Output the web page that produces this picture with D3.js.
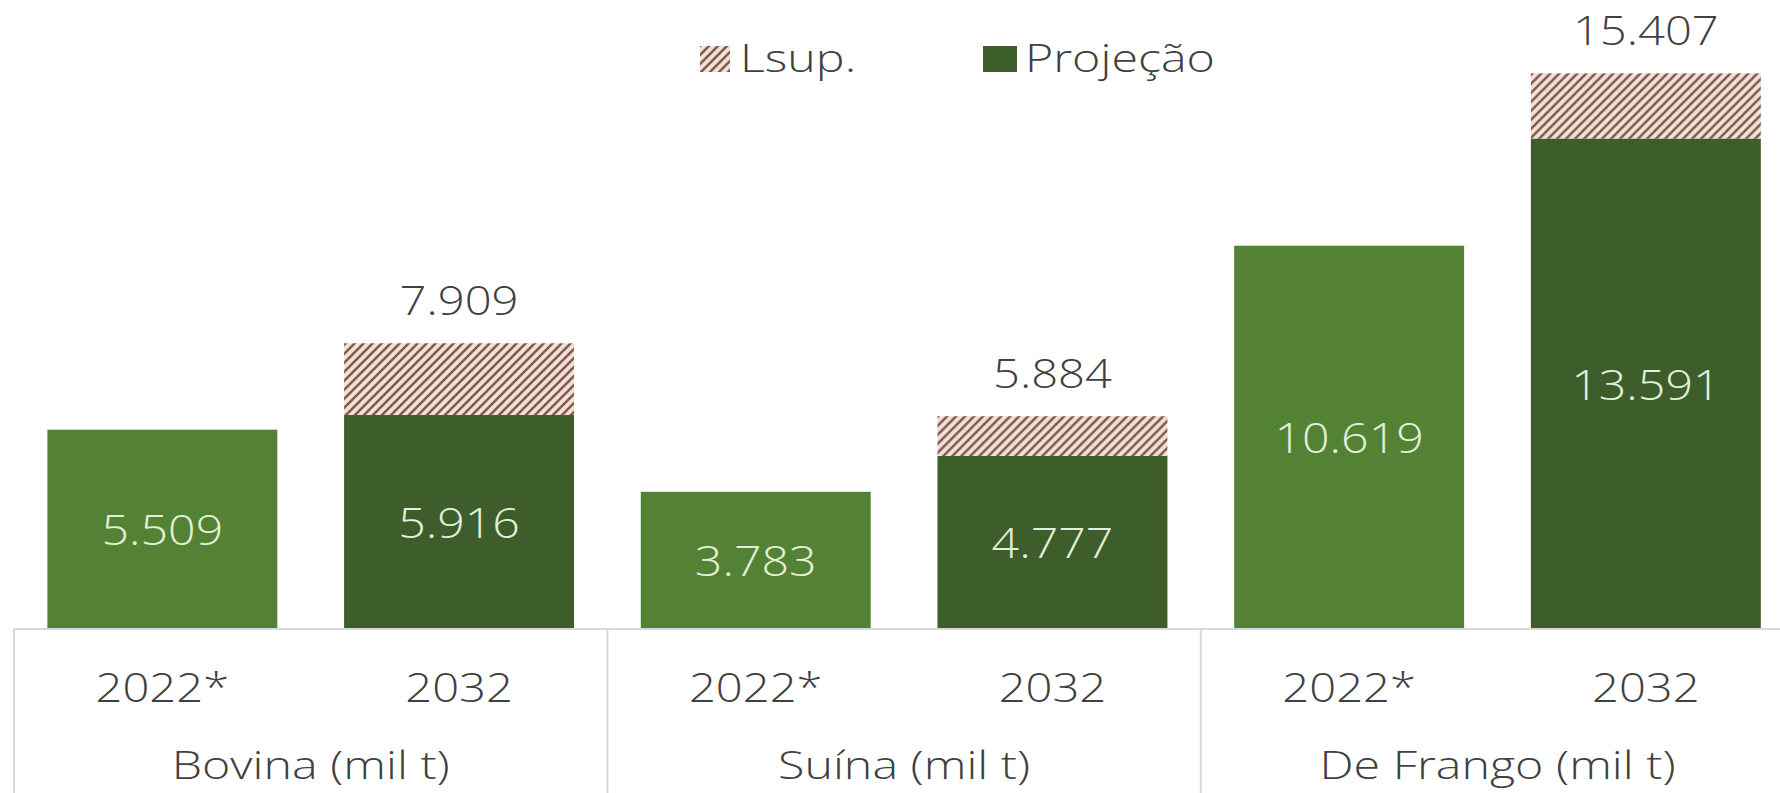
<!DOCTYPE html>
<html>
<head>
<meta charset="utf-8">
<script src="https://cdn.jsdelivr.net/npm/d3@7"></script>
<style>
  body { margin: 0; background: #fff; }
  text { font-family: "Open Sans", sans-serif; font-weight: 300; }
</style>
</head>
<body>
<svg id="chart"></svg>
<script>
// chart values
const categories = ["Bovina (mil t)", "Suína (mil t)", "De Frango (mil t)"];
const years = ["2022*", "2032"];
const values2022 = [5509, 3783, 10619];
const projecao2032 = [5916, 4777, 13591];
const lsup2032 = [7909, 5884, 15407];
const legendLabels = ["Lsup.", "Projeção"];

const width = 1780, height = 793;
const stretch = 1.15; // text in the picture is a bit wide
const wideStretch = 1.24; // category + legend text is wider still

const svg = d3.select("#chart").attr("width", width).attr("height", height);

// pt-BR style number: 5.509
const fmt = d3.formatLocale({decimal: ",", thousands: ".", grouping: [3], currency: ["R$", ""]}).format(",d");

// hatch pattern for Lsup
let defs = svg.append("defs");
let pat = defs.append("pattern").attr("id", "hatch")
    .attr("patternUnits", "userSpaceOnUse")
    .attr("width", 9).attr("height", 9);
pat.append("rect").attr("width", 9).attr("height", 9).attr("fill", "#f7e0d2");
pat.append("path")
    .attr("d", "M-2,2 l4,-4 M0,9 l9,-9 M7,11 l4,-4")
    .attr("stroke", "#7a5e56").attr("stroke-width", 2.6);

// scales
let x0 = d3.scaleBand().domain(categories).range([14, 14 + 3 * 593.4]);
let x1 = d3.scaleBand().domain(years).range([0, x0.bandwidth()]).paddingInner(0.225).paddingOuter(0.1125);
let y = d3.scaleLinear().domain([0, 17000]).range([628, 16]);

let rows = categories.map((c, i) => ({
    cat: c,
    v2022: values2022[i],
    proj: projecao2032[i],
    lsup: lsup2032[i]
}));

function stretchedText(sel, xf, yf, s) {
    return sel.attr("transform", d => "translate(" + xf(d) + "," + yf(d) + ") scale(" + (s || stretch) + ",1)");
}

let groups = svg.selectAll("g.cat")
    .data(rows)
    .join("g").attr("class", "cat")
    .attr("transform", d => "translate(" + x0(d.cat) + ",0)");

// 2022 bars
groups.append("rect")
    .attr("x", x1("2022*"))
    .attr("width", x1.bandwidth())
    .attr("y", d => y(d.v2022))
    .attr("height", d => y(0) - y(d.v2022))
    .attr("fill", "#548235");

// 2032 hatch (Lsup) on top of the projection
groups.append("rect")
    .attr("x", x1("2032"))
    .attr("width", x1.bandwidth())
    .attr("y", d => y(d.lsup))
    .attr("height", d => y(d.proj) - y(d.lsup))
    .attr("fill", "url(#hatch)");

groups.append("rect")
    .attr("x", x1("2032"))
    .attr("width", x1.bandwidth())
    .attr("y", d => y(d.proj))
    .attr("height", d => y(0) - y(d.proj))
    .attr("fill", "#3d5e2b");

let cx22 = x1("2022*") + x1.bandwidth() / 2;
let cx32 = x1("2032") + x1.bandwidth() / 2;

// labels inside bars
stretchedText(groups.append("text"), () => cx22, d => (y(d.v2022) + y(0)) / 2)
    .attr("text-anchor", "middle")
    .attr("dominant-baseline", "central")
    .attr("font-size", 42)
    .attr("fill", "#e2f0d9")
    .text(d => fmt(d.v2022));

stretchedText(groups.append("text"), () => cx32, d => (y(d.proj) + y(0)) / 2)
    .attr("text-anchor", "middle")
    .attr("dominant-baseline", "central")
    .attr("font-size", 42)
    .attr("fill", "#e2f0d9")
    .text(d => fmt(d.proj));

// Lsup value above the hatch
stretchedText(groups.append("text"), () => cx32, d => y(d.lsup) - 28)
    .attr("text-anchor", "middle")
    .attr("font-size", 41)
    .attr("fill", "#404040")
    .text(d => fmt(d.lsup));

// axis frame
let frame = svg.append("g").attr("stroke", "#d9d9d9").attr("stroke-width", 2);
frame.append("line")
    .attr("x1", x0.range()[0]).attr("x2", width)
    .attr("y1", 629).attr("y2", 629);
frame.selectAll("line.sep")
    .data(categories)
    .join("line").attr("class", "sep")
    .attr("x1", d => x0(d)).attr("x2", d => x0(d))
    .attr("y1", 629).attr("y2", height);

// year labels and category labels
groups.selectAll("text.year")
    .data(years)
    .join("text").attr("class", "year")
    .attr("transform", d => "translate(" + (x1(d) + x1.bandwidth() / 2) + ",702) scale(" + stretch + ",1)")
    .attr("text-anchor", "middle")
    .attr("font-size", 41)
    .attr("fill", "#404040")
    .text(d => d);

stretchedText(groups.append("text"), () => x0.bandwidth() / 2, () => 779, wideStretch)
    .attr("text-anchor", "middle")
    .attr("font-size", 39)
    .attr("fill", "#404040")
    .text(d => d.cat);

// legend
let legend = svg.append("g");
let legendX = [700, 983];
let legendItems = legend.selectAll("g")
    .data(legendLabels)
    .join("g")
    .attr("transform", (d, i) => "translate(" + legendX[i] + ",46)");
legendItems.append("rect")
    .attr("width", (d, i) => i == 0 ? 30 : 34)
    .attr("height", 26)
    .attr("fill", (d, i) => i == 0 ? "url(#hatch)" : "#3d5e2b");
legendItems.append("text")
    .attr("transform", (d, i) => "translate(" + (i == 0 ? 40 : 42) + ",26) scale(" + wideStretch + ",1)")
    .attr("font-size", 39)
    .attr("fill", "#404040")
    .text(d => d);
</script>
</body>
</html>
